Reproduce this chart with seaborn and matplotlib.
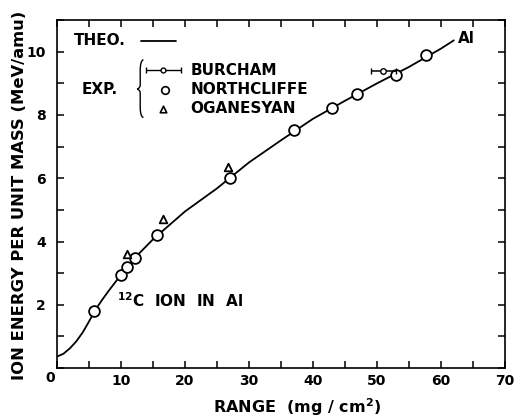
import matplotlib
matplotlib.use("Agg")
import matplotlib.pyplot as plt
from matplotlib.path import Path
from matplotlib.patches import PathPatch
import seaborn as sns
import pandas as pd

# Theory curve
theo_range = [0, 1, 2, 3, 4, 5, 6, 7, 8, 10, 12, 15, 20, 25, 30, 35, 40, 45, 50, 55, 60, 62]
theo_energy = [0.36, 0.45, 0.62, 0.84, 1.12, 1.47, 1.84, 2.14, 2.42, 2.95, 3.45, 4.07, 4.95, 5.68, 6.50, 7.20, 7.88, 8.45, 9.00, 9.52, 10.10, 10.36]

# Northcliffe (circles)
nc_range = [5.8, 10.0, 11.0, 12.2, 15.6, 27.0, 37.1, 43.0, 46.9, 52.9, 57.6]
nc_energy = [1.79, 2.95, 3.20, 3.48, 4.19, 6.02, 7.52, 8.21, 8.67, 9.27, 9.91]

# Oganesyan (triangles)
og_range = [11.0, 16.5, 26.7]
og_energy = [3.59, 4.70, 6.34]

# Burcham (small circle with x error)
bu_range = [51.0]
bu_energy = [9.40]
bu_xerr = [2.0]

sns.set_style("ticks")
plt.rcParams['font.family'] = ['DejaVu Sans']
plt.rcParams['font.weight'] = 'bold'
for k in ['text.color', 'axes.labelcolor', 'xtick.color', 'ytick.color', 'axes.edgecolor']:
    plt.rcParams[k] = 'black'

fig = plt.figure(figsize=(5.15, 4.19), dpi=100)
ax = fig.add_axes([0.1107, 0.1217, 0.8699, 0.8303])

theo = pd.DataFrame({"range": theo_range, "energy": theo_energy})
nc = pd.DataFrame({"range": nc_range, "energy": nc_energy})
og = pd.DataFrame({"range": og_range, "energy": og_energy})

sns.lineplot(data=theo, x="range", y="energy", ax=ax, color="black", lw=1.3, sort=False)
sns.scatterplot(data=nc, x="range", y="energy", ax=ax, marker="o", s=60,
                facecolor="white", edgecolor="black", linewidth=1.3, zorder=3)
sns.scatterplot(data=og, x="range", y="energy", ax=ax, marker="^", s=30,
                facecolor="white", edgecolor="black", linewidth=1.3, zorder=3)
ax.errorbar(bu_range, bu_energy, xerr=bu_xerr, fmt="o", ms=4, mfc="white",
            mec="black", color="black", lw=1.1, capsize=2.5, zorder=4)

ax.set_xlim(0, 70)
ax.set_ylim(0, 11)
ax.set_xticks(range(0, 71, 5))
ax.set_xticklabels(["" if v % 10 or v == 0 else str(v) for v in range(0, 71, 5)])
ax.set_yticks(range(0, 12))
ax.set_yticklabels([str(v) if (v % 2 == 0 and v > 0) else "" for v in range(0, 12)])
ax.tick_params(direction="in", length=5, width=1.1, top=True, right=True,
               labelsize=10, pad=4)
ax.tick_params(axis="y", pad=8)
for s in ax.spines.values():
    s.set_linewidth(1.2)
ax.text(-1.1, -0.32, "0", ha="center", va="center", fontsize=10, fontweight="bold")

ax.set_xlabel("RANGE  (mg / cm$^\\mathbf{2}$)", fontsize=11.5, fontweight="bold")
ax.xaxis.set_label_coords(0.536, -0.08)
ax.set_ylabel("ION ENERGY PER UNIT MASS (MeV/amu)", fontsize=11.8, fontweight="bold")
ax.yaxis.set_label_coords(-0.067, 0.495)

# Legend drawn manually
fs = 11
ax.text(2.7, 10.35, "THEO.", ha="left", va="center", fontsize=fs, fontweight="bold")
ax.plot([13.1, 18.6], [10.35, 10.35], color="black", lw=1.3)
ax.text(3.9, 8.8, "EXP.", ha="left", va="center", fontsize=fs, fontweight="bold")
brace = Path([(13.5, 9.75), (13.0, 9.72), (13.0, 9.4),
              (13.0, 8.95), (13.0, 8.85), (12.55, 8.82),
              (13.0, 8.79), (13.0, 8.7), (13.0, 8.25),
              (13.0, 7.95), (13.5, 7.92)],
             [Path.MOVETO, Path.CURVE3, Path.CURVE3,
              Path.LINETO, Path.CURVE3, Path.CURVE3,
              Path.CURVE3, Path.CURVE3, Path.LINETO,
              Path.CURVE3, Path.CURVE3])
ax.add_patch(PathPatch(brace, fill=False, lw=1.0, edgecolor="black"))
ax.errorbar([16.6], [9.42], xerr=[2.7], fmt="o", ms=3.5, mfc="white", mec="black",
            color="black", lw=1.0, capsize=2.5)
ax.scatter([16.8], [8.8], marker="o", s=30, facecolor="white", edgecolor="black", linewidth=1.2)
ax.scatter([16.6], [8.2], marker="^", s=22, facecolor="white", edgecolor="black", linewidth=1.2)
ax.text(20.8, 9.42, "BURCHAM", ha="left", va="center", fontsize=fs, fontweight="bold")
ax.text(20.8, 8.8, "NORTHCLIFFE", ha="left", va="center", fontsize=fs, fontweight="bold")
ax.text(20.8, 8.2, "OGANESYAN", ha="left", va="center", fontsize=fs, fontweight="bold")

ax.text(62.6, 10.42, "Al", ha="left", va="center", fontsize=fs, fontweight="bold")
ax.text(9.3, 2.13, "$^{\\mathbf{12}}$C  ION  IN  Al", ha="left", va="center", fontsize=fs, fontweight="bold")

fig.savefig("out.png", dpi=100)
